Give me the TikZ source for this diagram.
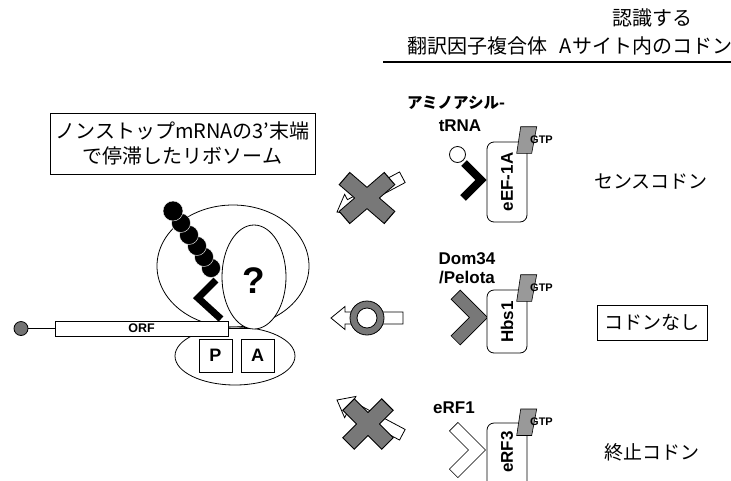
\documentclass[tikz,border=0pt]{standalone}
\usepackage{fontspec}
\setmainfont{Noto Sans CJK JP}
\newfontfamily\hv{Liberation Sans}
\definecolor{xgray}{gray}{0.47}
\definecolor{gtpgray}{gray}{0.6}
\definecolor{capgray}{gray}{0.45}
\begin{document}
\begin{tikzpicture}[x=1pt,y=-1pt,
  every node/.style={inner sep=0pt},
  hdr/.style={font=\fontsize{20}{24}\selectfont},
  codon/.style={font=\fontsize{19}{23}\selectfont},
  blab/.style={font=\hv\bfseries\fontsize{17}{20}\selectfont, align=center},
  jplab/.style={font=\bfseries\fontsize{15.5}{18}\selectfont},
  fbox/.style={draw, line width=0.8pt, rounded corners=7pt, fill=white, minimum width=40pt},
  ftext/.style={font=\hv\bfseries\fontsize{17}{20}\selectfont, rotate=90},
  gtpshape/.style={draw, line width=0.6pt, fill=gtpgray},
  gtptext/.style={font=\hv\bfseries\fontsize{11}{12}\selectfont},
  blockarrow/.style={draw, line width=0.8pt, fill=white, line join=miter},
  xout/.style={line width=17pt, shorten <=-1.2pt, shorten >=-1.2pt},
  xin/.style={line width=15pt, xgray},
  site/.style={draw, line width=0.8pt, fill=white, minimum size=33pt,
               font=\hv\bfseries\fontsize{18}{20}\selectfont},
  outline/.style={line width=0.8pt}
]
\useasboundingbox (0,0) rectangle (731,480);

% ---- column headers ----
\node[hdr] (hrec) at (652,18) {認識する};
\node[hdr] (hfac) at (477,46) {翻訳因子複合体};
\node[hdr] (hcod) at (646,46) {Aサイト内のコドン};
\coordinate (ruleL) at (383,62);
\coordinate (ruleR) at (731,62);
\draw[line width=1.8pt] (ruleL) -- (ruleR);

% ---- caption box ----
\node[draw, outline, minimum width=265pt, minimum height=61pt, align=center,
      font=\fontsize{20}{25}\selectfont] (stall) at (182.5,143.5)
  {ノンストップmRNAの3’末端\\で停滞したリボソーム};

% ---- stalled ribosome ----
\draw[outline, fill=white] (233,266) ellipse [x radius=76, y radius=61];
\draw[outline, fill=white] (235,356) ellipse [x radius=60, y radius=29];
\draw[outline, fill=white] (254,277) ellipse [x radius=32, y radius=52];

% mRNA with cap and ORF
\node[circle, draw, outline, fill=capgray, minimum size=14pt] (cap) at (21,328.5) {};
\node[draw, outline, fill=white, minimum width=173pt, minimum height=15pt,
      font=\hv\bfseries\fontsize{12.5}{14}\selectfont] (orf) at (141.5,328.5) {ORF};
\coordinate (mend) at (250,328.5);
\draw[line width=1.5pt] (cap) -- (orf.west);
\draw[line width=1.5pt] (orf.east) -- (mend);

% peptidyl-tRNA and nascent chain
\draw[line width=7pt, line join=miter] (216,280) -- (198,298) -- (221,319);
\foreach \bx/\by/\br in {211/268/9.5, 204/257/9.5, 197/246/9.5, 189/235/9.5, 181/223/9.5, 173/211/10}
  \filldraw[fill=black, draw=white, line width=0.4pt] (\bx,\by) circle (\br);

\node[site] (psite) at (215.5,355.5) {P};
\node[site] (asite) at (257.5,355.5) {A};
\node[font=\hv\bfseries\fontsize{37}{40}\selectfont] (qmark) at (254,281) {?};

% ---- row 1: aminoacyl-tRNA is rejected ----
\begin{scope}[shift={(337,212)}, rotate=28]
  \draw[blockarrow] (0,0) -- (15,-12) -- (15,-6) -- (74,-6) -- (74,6) -- (15,6) -- (15,12) -- cycle;
\end{scope}
\begin{scope}[shift={(367,198)}]
  \draw[xout] (-22,-19) -- (22,19);
  \draw[xout] (-22,19) -- (22,-19);
  \draw[xin] (-22,-19) -- (22,19);
  \draw[xin] (-22,19) -- (22,-19);
\end{scope}

% ---- row 2: Dom34/Pelota enters ----
\begin{scope}[shift={(331,318)}]
  \draw[blockarrow] (0,0) -- (14,-11.5) -- (14,-6) -- (72,-6) -- (72,6) -- (14,6) -- (14,11.5) -- cycle;
\end{scope}
\filldraw[fill=xgray, outline] (367,318) circle (17);
\filldraw[fill=white, outline] (367,318) circle (10);

% ---- row 3: eRF1 is rejected ----
\begin{scope}[shift={(337,400)}, rotate=-28]
  \draw[blockarrow] (0,0) -- (15,-12) -- (15,-6) -- (74,-6) -- (74,6) -- (15,6) -- (15,12) -- cycle;
\end{scope}
\begin{scope}[shift={(368,424)}]
  \draw[xout] (-19,-19) -- (19,19);
  \draw[xout] (-19,19) -- (19,-19);
  \draw[xin] (-19,-19) -- (19,19);
  \draw[xin] (-19,19) -- (19,-19);
\end{scope}

% ---- factor complexes ----
% aminoacyl-tRNA / eEF-1A
\node[jplab] (aatrna1) at (456,103) {アミノアシル-};
\node[blab] (aatrna2) at (460,126) {tRNA};
\draw[line width=8pt, line join=miter] (464,163) -- (481,180) -- (463,198);
\filldraw[fill=white, outline] (457.5,154.5) circle (8);
\node[fbox, minimum height=80pt] (eefbox) at (507,182) {};
\node[ftext] (eeftext) at (507,182) {eEF-1A};
\begin{scope}[shift={(527,142)}]
  \draw[gtpshape] (-6.3,-15.3) -- (9.7,-15.3) -- (4.7,11.3) -- (-10.3,11.3) -- cycle;
  \node[gtptext] (gtpA) at (14.5,-2.5) {GTP};
\end{scope}

% Dom34/Pelota / Hbs1
\node[blab] (dom) at (467,268) {Dom34\\[-1pt]/Pelota};
\draw[line width=13.5pt, line join=miter, shorten <=-0.75pt, shorten >=-0.75pt]
  (456,295) -- (478.5,317.5) -- (456,340);
\draw[line width=12pt, line join=miter, xgray] (456,295) -- (478.5,317.5) -- (456,340);
\node[fbox, minimum height=63pt] (hbsbox) at (507,321.5) {};
\node[ftext] (hbstext) at (507,322) {Hbs1};
\begin{scope}[shift={(527,290)}]
  \draw[gtpshape] (-6.3,-15.3) -- (9.7,-15.3) -- (4.7,11.3) -- (-10.3,11.3) -- cycle;
  \node[gtptext] (gtpB) at (14.5,-2.5) {GTP};
\end{scope}

% eRF1 / eRF3
\node[blab] (erf1) at (454,407.5) {eRF1};
\draw[line width=12.5pt, line join=miter, shorten <=-0.75pt, shorten >=-0.75pt]
  (454,427) -- (477,450) -- (454,473);
\draw[line width=11pt, line join=miter, white] (454,427) -- (477,450) -- (454,473);
\node[fbox, minimum height=80pt] (erfbox) at (507,463) {};
\node[ftext] (erftext) at (507,452) {eRF3};
\begin{scope}[shift={(527,423)}]
  \draw[gtpshape] (-6.3,-14) -- (9.7,-14) -- (4.7,12.5) -- (-10.3,12.5) -- cycle;
  \node[gtptext] (gtpC) at (14.5,-1.5) {GTP};
\end{scope}

% ---- A-site codons ----
\node[codon] (sense) at (651,182) {センスコドン};
\node[codon, draw, outline, minimum width=110pt, minimum height=35pt] (none) at (652,322.5) {コドンなし};
\node[codon] (stop) at (652,452) {終止コドン};
\end{tikzpicture}
\end{document}
